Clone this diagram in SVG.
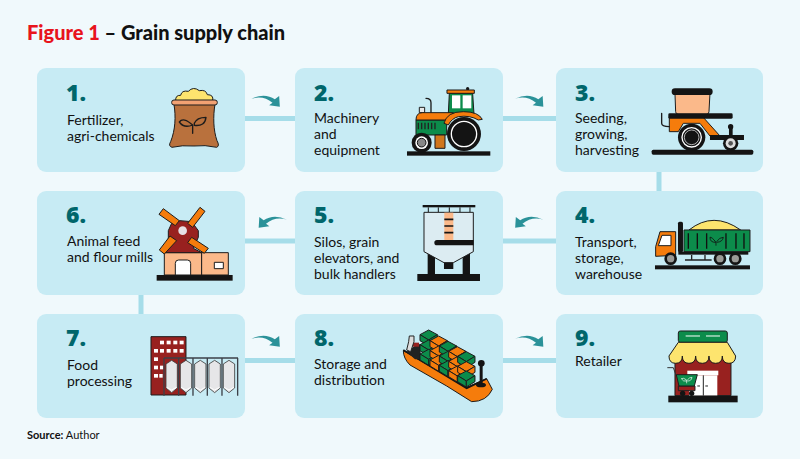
<svg xmlns="http://www.w3.org/2000/svg" xmlns:xlink="http://www.w3.org/1999/xlink" width="800" height="459" viewBox="0 0 800 459">
<style>
text{font-family:Lato,"Open Sans","Liberation Sans",sans-serif;fill:#111}
.t{font-size:14px}
.n{font-family:"Open Sans","Liberation Sans",sans-serif;font-size:23px;font-weight:800;fill:#00666b}
.card{fill:#c7ebf4}
.ln{stroke:#a6dde9;stroke-width:5;fill:none}
.arw{fill:#2b9299}
.o{stroke:#1c1c1c;stroke-width:3;stroke-linejoin:round}
.k{fill:#141414}
.gr{fill:#0c8c4b}
.or{fill:#f57c0c}
.sa{fill:#fbb98a}
.ye{fill:#fde46e}
.rd{fill:#98211f}
.wh{fill:#fff}
.lf{fill:none;stroke:#1c1c1c;stroke-width:4;stroke-linejoin:round;stroke-linecap:round}
</style>
<defs>
<path id="arrow" d="M0,11 Q40,-8 70,13 L83,3 L85,35 L53,31 L63,23 Q35,0 0,11Z"/>
<g id="silo"><path d="M0,16 L17,5 L34,16 L34,88 L17,102 L0,88Z" fill="#e6e6e8" stroke="#3c3c3c" stroke-width="2.500"/><path d="M2,86 L17,94 L32,86" fill="none" stroke="#fff" stroke-width="3"/></g>
<g id="box"><path d="M0,14 L26,0 L52,14 L26,30Z"/><path d="M0,14 L26,30 L26,48 L0,32Z"/><path d="M26,30 L52,14 L52,32 L26,48Z"/></g>
</defs>
<rect width="800" height="459" fill="#f0f9fc"/>
<text x="27" y="39.500" style="font-size:20px;font-weight:900"><tspan fill="#e8141c">Figure 1</tspan> – Grain supply chain</text>
<g id="connectors">
<path class="ln" d="M245,118.5H295M503,118.5H556M659,172V191M556,241H503M295,241H245M141,295V314M245,360.500H295M503,360.500H556"/>
<g class="arw">
<use xlink:href="#arrow" href="#arrow" transform="translate(251.500,95) scale(.3333)"/>
<use xlink:href="#arrow" href="#arrow" transform="translate(515,95) scale(.3333)"/>
<use xlink:href="#arrow" href="#arrow" transform="translate(543.500,216) scale(-.3333,.3333)"/>
<use xlink:href="#arrow" href="#arrow" transform="translate(287,216) scale(-.3333,.3333)"/>
<use xlink:href="#arrow" href="#arrow" transform="translate(251.500,335) scale(.3333)"/>
<use xlink:href="#arrow" href="#arrow" transform="translate(515,335) scale(.3333)"/>
</g>
</g>
<g id="node1"><rect class="card" x="37" y="68" width="208" height="104" rx="9"/>
<text class="n" x="66" y="101">1.</text><text class="t" x="67" y="125">Fertilizer,</text><text class="t" x="67" y="141">agri-chemicals</text>
<g transform="translate(20,60) scale(.3333)">
<path class="ye o" d="M467,122 Q466,105 482,106 Q485,90 505,94 Q520,78 538,92 Q558,88 562,104 Q582,104 578,122Z"/>
<path d="M462,133 L585,133 C579,170 580,210 591,242 Q600,258 590,262 Q555,254 522,258 Q485,255 456,262 Q444,258 452,245 C466,210 468,170 462,133Z" fill="#b9713d" class="o"/>
<rect class="o" x="455" y="120" width="137" height="15" rx="7" fill="#f2a273"/>
<path class="lf" d="M518,220 L518,196 M518,195 Q490,170 478,186 Q492,206 518,195Z M523,190 Q530,172 558,172 Q555,200 523,196Z"/>
</g></g>
<g id="node2"><rect class="card" x="295" y="68" width="208" height="104" rx="9"/>
<text class="n" x="314" y="101">2.</text><text class="t" x="314" y="123">Machinery</text><text class="t" x="314" y="139">and</text><text class="t" x="314" y="155">equipment</text>
<g transform="translate(290,60) scale(.3333)">
<rect class="k" x="351" y="274" width="250" height="13"/>
<circle class="k" cx="533" cy="86" r="5"/>
<path class="gr o" d="M478,100 L548,100 L552,162 L475,162Z"/>
<rect class="or o" x="471" y="90" width="82" height="10"/>
<rect class="wh" x="486" y="106" width="25" height="39"/><rect class="wh" x="518" y="106" width="26" height="39"/>
<path class="lf" d="M408,115 Q423,115 423,128 L423,158"/>
<rect x="388" y="142" width="16" height="16" fill="#e8e8e8" class="o"/>
<path class="gr o" d="M378,180 H470 V225 H378Z"/>
<path class="or o" d="M378,180 Q378,158 398,158 H490 L470,180Z"/>
<path d="M385,188 v20 M395,188 v20 M405,188 v20 M415,188 v20 M425,188 v20 M435,188 v20" stroke="#222" stroke-width="4"/>
<rect x="435" y="225" width="30" height="40" fill="#d0761c" class="o"/>
<path class="or o" d="M462,190 Q470,155 520,155 Q565,155 577,178 L565,180 Q540,165 505,170 Q485,175 475,195Z"/>
<circle class="k" cx="522" cy="222" r="51"/><circle cx="522" cy="222" r="38" fill="none" stroke="#fff" stroke-width="4"/>
<circle class="k" cx="395" cy="248" r="30"/><circle cx="395" cy="248" r="19" fill="#fff"/><circle cx="395" cy="248" r="13" fill="#888" stroke="#111" stroke-width="3"/>
</g></g>
<g id="node3"><rect class="card" x="556" y="68" width="207" height="104" rx="9"/>
<text class="n" x="575" y="101">3.</text><text class="t" x="575" y="123">Seeding,</text><text class="t" x="575" y="139">growing,</text><text class="t" x="575" y="155">harvesting</text>
<g transform="translate(510,60) scale(.3333)">
<rect class="k" x="425" y="269" width="305" height="15" rx="5"/>
<path class="sa o" d="M495,100 L600,100 L597,155 Q597,163 589,163 L505,163 Q497,163 497,155Z"/>
<rect class="k" x="485" y="85" width="123" height="20" rx="10"/>
<path class="or o" d="M478,170 L578,170 L630,228 L600,228 L570,190 L520,190 L505,215 L478,215Z"/>
<rect class="k" x="475" y="160" width="193" height="16" rx="4"/>
<path class="lf" d="M455,160 L455,190 Q455,200 478,200" stroke-width="3"/>
<circle class="k" cx="545" cy="232" r="41"/><circle cx="545" cy="232" r="29" fill="none" stroke="#fff" stroke-width="4"/><circle cx="545" cy="232" r="22" fill="none" stroke="#fff" stroke-width="2"/>
<rect class="k" x="600" y="225" width="102" height="15"/>
<rect class="k" x="657" y="200" width="11" height="28"/><circle class="k" cx="662" cy="200" r="8"/>
<circle class="k" cx="662" cy="250" r="23"/><circle cx="662" cy="250" r="15" fill="#ddd"/><circle cx="662" cy="250" r="7" fill="#555"/>
</g></g>
<g id="node4"><rect class="card" x="556" y="191" width="207" height="104" rx="9"/>
<text class="n" x="575" y="223">4.</text><text class="t" x="575" y="247">Transport,</text><text class="t" x="575" y="263">storage,</text><text class="t" x="575" y="279">warehouse</text>
<g transform="translate(510,180) scale(.3333)">
<rect class="k" x="435" y="256" width="285" height="12"/>
<path class="ye o" d="M537,150 Q610,92 692,150Z"/>
<rect class="gr o" x="522" y="150" width="198" height="65"/>
<path d="M535,160v46M562,160v46M590,160v46M648,160v46M678,160v46M702,160v46" stroke="#111" stroke-width="4"/>
<path d="M618,197 v-10 M618,187 Q605,170 600,172 Q600,188 618,187 M620,185 Q628,172 640,172 Q638,186 620,187" fill="none" stroke="#111" stroke-width="2.500"/>
<rect class="k" x="505" y="215" width="210" height="9"/>
<path class="or o" d="M450,155 L497,155 L497,226 L437,229 L437,200Z"/>
<path class="wh o" d="M456,166 L483,166 L483,197 L445,197Z"/>
<rect class="k" x="504" y="125" width="15" height="92" rx="5"/>
<path d="M525,240 H605 M545,225 V240 M585,225 V240" stroke="#222" stroke-width="4" fill="none"/>
<g fill="#9a9a96" stroke="#141414" stroke-width="8"><circle cx="482" cy="236" r="15"/><circle cx="630" cy="236" r="15"/><circle cx="676" cy="236" r="15"/></g>
</g></g>
<g id="node5"><rect class="card" x="295" y="191" width="208" height="104" rx="9"/>
<text class="n" x="314" y="223">5.</text><text class="t" x="314" y="247">Silos, grain</text><text class="t" x="314" y="263">elevators, and</text><text class="t" x="314" y="279">bulk handlers</text>
<g transform="translate(290,180) scale(.3333)">
<rect class="k" x="398" y="75" width="158" height="7"/>
<path d="M415,82V97M445,82V97M478,82V97M510,82V97M540,82V97" stroke="#141414" stroke-width="3"/>
<rect class="k" x="413" y="215" width="22" height="70"/><rect class="k" x="518" y="215" width="22" height="70"/>
<path class="o" fill="#dcecf2" d="M402,97 L550,97 L550,215 L490,248 L462,248 L402,215Z"/>
<rect class="sa" x="463" y="98" width="27" height="84"/>
<path d="M463,118H490M463,138H490M463,158H490" stroke="#141414" stroke-width="5"/>
<path class="k" d="M441,180 H551 V196 H441 Q433,196 433,188 Q433,180 441,180Z"/>
<rect class="k" x="462" y="248" width="28" height="19"/>
<rect class="k" x="382" y="282" width="188" height="21"/>
</g></g>
<g id="node6"><rect class="card" x="37" y="191" width="208" height="104" rx="9"/>
<text class="n" x="66" y="223">6.</text><text class="t" x="67" y="246">Animal feed</text><text class="t" x="67" y="262">and flour mills</text>
<g transform="translate(20,180) scale(.3333)">
<rect class="k" x="410" y="285" width="228" height="17"/>
<rect class="sa o" x="433" y="218" width="112" height="67"/><rect class="sa o" x="545" y="218" width="80" height="67"/>
<path class="wh" d="M466,285 V250 Q466,240 476,240 H502 Q512,240 512,250 V285Z" stroke="#1c1c1c" stroke-width="3"/>
<rect class="wh o" x="583" y="247" width="27" height="19"/>
<path class="rd o" d="M445,152 L455,130 L480,122 L515,125 L535,152 L535,172 L520,205 L545,218 L433,218 L445,190Z"/>
<g class="or o"><path d="M430,86 L478,122 L466,137 L417,103Z"/><path d="M540,82 L555,94 L518,142 L503,130Z"/><path d="M450,168 L470,182 L433,222 L418,210Z"/><path d="M515,172 L565,205 L553,220 L503,188Z"/></g>
<circle cx="488" cy="152" r="13" fill="#e6e1e5"/>
</g></g>
<g id="node7"><rect class="card" x="37" y="314" width="208" height="104" rx="9"/>
<text class="n" x="66" y="346">7.</text><text class="t" x="67" y="370">Food</text><text class="t" x="67" y="386">processing</text>
<g transform="translate(20,300) scale(.3333)">
<rect class="rd o" x="393" y="110" width="105" height="175"/>
<g class="wh"><rect x="420" y="122" width="12" height="11"/><rect x="440" y="122" width="12" height="11"/><rect x="460" y="122" width="12" height="11"/><rect x="479" y="122" width="12" height="11"/>
<rect x="402" y="147" width="12" height="11"/><rect x="420" y="147" width="12" height="11"/><rect x="440" y="147" width="12" height="11"/><rect x="460" y="147" width="12" height="11"/><rect x="479" y="147" width="12" height="11"/>
<rect x="402" y="172" width="12" height="11"/><rect x="402" y="197" width="12" height="11"/><rect x="420" y="197" width="10" height="11"/><rect x="402" y="222" width="12" height="11"/><rect x="418" y="222" width="10" height="11"/></g>
<path d="M432,174H654 M432,174V287 M476,174V287 M519,174V287 M562,174V287 M606,174V287 M653,174V287" fill="none" stroke="#3c4048" stroke-width="4"/>
<use xlink:href="#silo" href="#silo" transform="translate(438,176)"/><use xlink:href="#silo" href="#silo" transform="translate(481,176)"/><use xlink:href="#silo" href="#silo" transform="translate(524,176)"/><use xlink:href="#silo" href="#silo" transform="translate(567,176)"/><use xlink:href="#silo" href="#silo" transform="translate(610,176)"/>
</g></g>
<g id="node8"><rect class="card" x="295" y="314" width="208" height="104" rx="9"/>
<text class="n" x="314" y="346">8.</text><text class="t" x="314" y="369">Storage and</text><text class="t" x="314" y="385">distribution</text>
<g transform="translate(290,300) scale(.3333)">
<path class="or o" d="M340,152 Q340,175 360,195 L470,258 L545,305 Q590,305 607,268 L590,236 L530,262Z"/>
<path d="M340,150 L530,265 L590,236" fill="none" stroke="#141414" stroke-width="5"/>
<path d="M350,155 L385,130 L392,135 L392,178 L375,178Z" fill="#222"/>
<rect x="365" y="128" width="22" height="12" fill="#98211f"/>
<path d="M358,108 H372 V125 L362,155 L350,150 L356,125Z" fill="#ddd" stroke="#222" stroke-width="3"/>
<g class="o" stroke-width="2.500">
<g class="gr"><use xlink:href="#box" href="#box" x="390" y="90"/><use xlink:href="#box" href="#box" x="390" y="120"/><use xlink:href="#box" href="#box" x="390" y="148"/></g>
<g class="or"><use xlink:href="#box" href="#box" x="420" y="108"/><use xlink:href="#box" href="#box" x="420" y="138"/><use xlink:href="#box" href="#box" x="420" y="166"/></g>
<g class="gr"><use xlink:href="#box" href="#box" x="448" y="124"/><use xlink:href="#box" href="#box" x="448" y="154"/><use xlink:href="#box" href="#box" x="448" y="182"/></g>
<g class="or"><use xlink:href="#box" href="#box" x="476" y="140"/><use xlink:href="#box" href="#box" x="476" y="170"/><use xlink:href="#box" href="#box" x="476" y="198"/></g>
<g class="gr"><use xlink:href="#box" href="#box" x="503" y="155"/></g><g class="or"><use xlink:href="#box" href="#box" x="503" y="185"/></g><g class="gr"><use xlink:href="#box" href="#box" x="503" y="213"/></g>
</g>
<path class="k" d="M569,190 H578 V250 H569Z"/><circle class="k" cx="574" cy="190" r="10"/><ellipse class="k" cx="573" cy="255" rx="15" ry="7"/>
</g></g>
<g id="node9"><rect class="card" x="556" y="314" width="207" height="104" rx="9"/>
<text class="n" x="575" y="346">9.</text><text class="t" x="575" y="366">Retailer</text>
<g transform="translate(510,300) scale(.3333)">
<rect class="rd o" x="495" y="165" width="168" height="122"/>
<rect class="gr o" x="505" y="93" width="147" height="34" rx="6"/>
<path d="M527,108H570M588,108H630" stroke="#fff" stroke-width="3"/>
<path class="ye o" d="M505,127 H652 L677,168 Q677,190 657,190 Q637,190 637,168 Q637,190 617,190 Q597,190 597,168 Q597,190 577,190 Q557,190 557,168 Q557,190 537,190 Q517,190 517,168 Q517,190 497,190 Q477,190 477,168Z"/>
<rect class="wh" x="532" y="212" width="93" height="14"/>
<rect class="wh" x="537" y="226" width="85" height="61"/>
<path d="M580,226V287M562,258h8M586,258h8" stroke="#222" stroke-width="3"/>
<path d="M472,203H490L498,225 M505,262H555" fill="none" stroke="#333" stroke-width="3"/>
<path class="rd" d="M505,258 H555 V272 H505Z" stroke="#222" stroke-width="3"/>
<path class="gr o" d="M499,224 H562 L553,258 H507Z"/>
<path d="M530,250 V240 M530,240 Q520,232 514,236 Q520,246 530,243 M532,240 Q538,232 546,232 Q544,244 532,243" fill="none" stroke="#fff" stroke-width="2"/>
<circle class="k" cx="518" cy="280" r="8"/><circle class="k" cx="545" cy="280" r="8"/>
<rect class="k" x="475" y="287" width="208" height="20"/>
</g></g>
<text x="27" y="439" style="font-size:11px"><tspan font-weight="700">Source:</tspan> Author</text>
</svg>
